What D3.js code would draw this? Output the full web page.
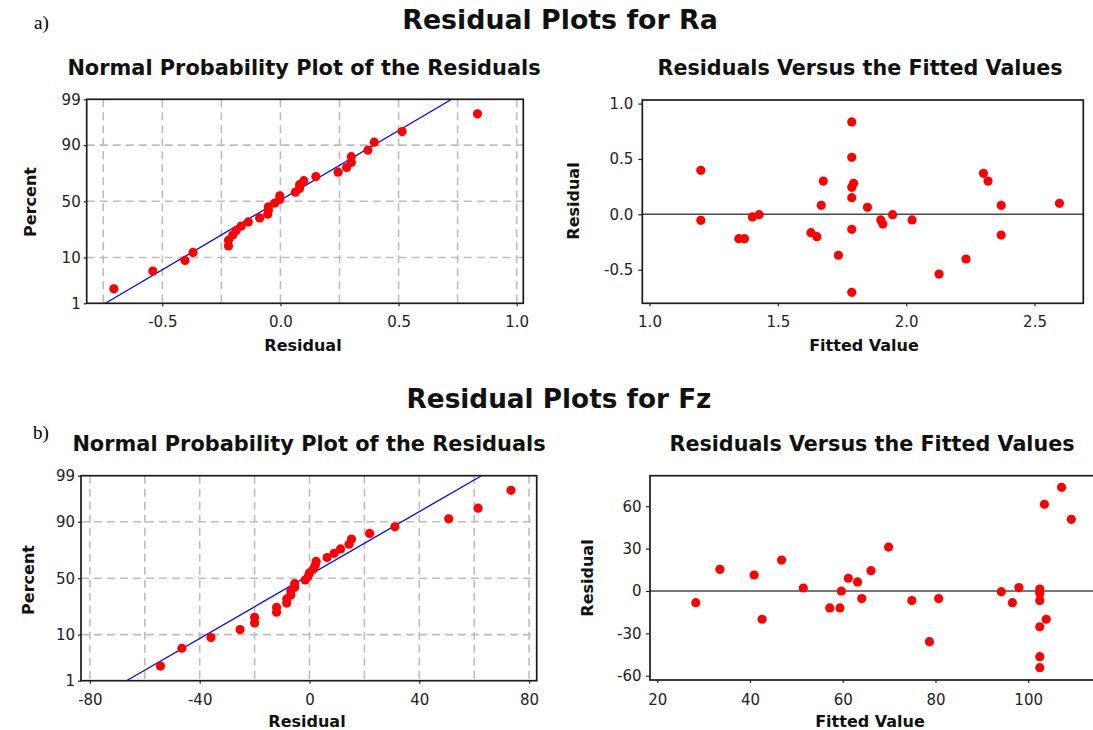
<!DOCTYPE html>
<html><head><meta charset="utf-8">
<script src="https://cdn.jsdelivr.net/npm/d3@7"></script>
<style>
html,body{margin:0;padding:0;background:#fff;}
svg{display:block;}
</style></head><body>
<svg id="chart" width="1093" height="730"></svg>
<script>
// ---------------- data ----------------
const raFitted = [1.200, 1.200, 1.348, 1.370, 1.401, 1.427, 1.629, 1.652, 1.677, 1.669,
                  1.788, 1.788, 1.795, 1.788, 1.788, 1.788, 1.788, 1.736, 1.849, 1.901,
                  1.909, 1.947, 2.023, 2.128, 2.233, 2.301, 2.319, 2.370, 2.370, 2.597];
const raResid  = [0.397, -0.054, -0.220, -0.220, -0.024, -0.003, -0.166, -0.202, 0.300, 0.081,
                  0.834, 0.515, 0.280, 0.244, 0.150, -0.136, -0.705, -0.370, 0.063, -0.051,
                  -0.088, -0.003, -0.051, -0.540, -0.404, 0.370, 0.300, 0.081, -0.187, 0.099];
const fzFitted = [28.3, 33.5, 40.9, 42.6, 46.8, 51.5, 57.2, 59.4, 59.7, 61.2,
                  63.2, 64.1, 66.1, 69.9, 74.9, 78.7, 80.7, 94.2, 96.6, 98.0,
                  102.5, 102.5, 102.5, 102.5, 103.9, 102.5, 102.5, 103.5, 107.2, 109.3];
const fzResid  = [-8.3, 15.3, 11.3, -20.0, 21.9, 2.1, -12.0, -12.0, 0.0, 9.0,
                  6.4, -5.4, 14.4, 31.1, -6.8, -35.9, -5.4, -0.5, -8.3, 2.4,
                  1.4, -1.6, -6.8, -25.3, -20.0, -46.5, -54.3, 61.4, 73.4, 50.7];
// plotting positions (percent) of the sorted residuals, n = 30
const plotPercent = [2.30, 5.59, 8.88, 12.17, 15.46, 18.75, 22.04, 25.33, 28.62, 31.91,
                     35.20, 38.49, 41.78, 45.07, 48.36, 51.64, 54.93, 58.22, 61.51, 64.80,
                     68.09, 71.38, 74.67, 77.96, 81.25, 84.54, 87.83, 91.12, 94.41, 97.70];
// fitted normal line (mean, standard deviation)
const raLineMean = -0.008, raLineSD = 0.315;
const fzLineMean = -2.0,   fzLineSD = 27.8;

const probTicks = [1, 10, 50, 90, 99];
const probGrid  = [10, 50, 90];
const raNormXTicks = [-0.5, 0.0, 0.5, 1.0];
const raNormXGrid  = [-0.75, -0.5, -0.25, 0, 0.25, 0.5, 0.75, 1.0];
const raFitXTicks  = [1.0, 1.5, 2.0, 2.5];
const raFitYTicks  = [-0.5, 0.0, 0.5, 1.0];
const fzNormXTicks = [-80, -40, 0, 40, 80];
const fzNormXGrid  = [-80, -60, -40, -20, 0, 20, 40, 60, 80];
const fzFitXTicks  = [20, 40, 60, 80, 100];
const fzFitYTicks  = [-60, -30, 0, 30, 60];

// ---------------- helpers ----------------
function qnorm(p){
  const a=[-3.969683028665376e+01,2.209460984245205e+02,-2.759285104469687e+02,1.383577518672690e+02,-3.066479806614716e+01,2.506628277459239e+00];
  const b=[-5.447609879822406e+01,1.615858368580409e+02,-1.556989798598866e+02,6.680131188771972e+01,-1.328068155288572e+01];
  const c=[-7.784894002430293e-03,-3.223964580411365e-01,-2.400758277161838e+00,-2.549732539343734e+00,4.374664141464968e+00,2.938163982698783e+00];
  const d=[7.784695709041462e-03,3.224671290700398e-01,2.445134137142996e+00,3.754408661907416e+00];
  const pl=0.02425, ph=1-pl; let q,r;
  if(p<pl){q=Math.sqrt(-2*Math.log(p));return (((((c[0]*q+c[1])*q+c[2])*q+c[3])*q+c[4])*q+c[5])/((((d[0]*q+d[1])*q+d[2])*q+d[3])*q+1);}
  if(p>ph){q=Math.sqrt(-2*Math.log(1-p));return -(((((c[0]*q+c[1])*q+c[2])*q+c[3])*q+c[4])*q+c[5])/((((d[0]*q+d[1])*q+d[2])*q+d[3])*q+1);}
  q=p-0.5;r=q*q;
  return (((((a[0]*r+a[1])*r+a[2])*r+a[3])*r+a[4])*r+a[5])*q/(((((b[0]*r+b[1])*r+b[2])*r+b[3])*r+b[4])*r+1);
}

const svg = d3.select("#chart");
const TICKFONT = "'DejaVu Sans', Verdana, sans-serif";
const GRID = "#bdbdbd", DOT = "#ff0000";

function styleAxis(g){
  g.select(".domain").remove();
  g.selectAll(".tick line").attr("stroke","#222").attr("stroke-width",1.2);
  g.selectAll(".tick text").attr("font-family",TICKFONT).attr("font-size","15px").attr("fill","#222");
}
function frame(box){
  svg.append("rect").attr("x",box.L).attr("y",box.T).attr("width",box.R-box.L).attr("height",box.B-box.T)
     .attr("fill","none").attr("stroke","#1a1a1a").attr("stroke-width",1.7);
}
function title(txt,x,y,size){
  svg.append("text").attr("x",x).attr("y",y).attr("text-anchor","middle")
     .attr("font-family",TICKFONT).attr("font-weight","bold").attr("font-size",size+"px")
     .attr("fill","#111").text(txt);
}
function vlabel(txt,x,y){
  svg.append("text").attr("transform",`translate(${x},${y}) rotate(-90)`).attr("text-anchor","middle")
     .attr("font-family",TICKFONT).attr("font-weight","bold").attr("font-size","16px").attr("fill","#111").text(txt);
}
const hy = f => (d => f(d).replace("\u2212","-"));

function normalPanel(o){
  const {L,T,R,B} = o.box;
  const x = d3.scaleLinear().domain(o.xDomain).range([L,R]);
  const y = d3.scaleLinear().domain([qnorm(0.01), qnorm(0.99)]).range([B,T]);
  const g = svg.append("g");
  g.selectAll(".vg").data(o.xGrid).join("line")
    .attr("x1",d=>x(d)).attr("x2",d=>x(d)).attr("y1",T).attr("y2",B)
    .attr("stroke",GRID).attr("stroke-width",1.6).attr("stroke-dasharray","8,5");
  g.selectAll(".hg").data(probGrid).join("line")
    .attr("x1",L).attr("x2",R).attr("y1",d=>y(qnorm(d/100))).attr("y2",d=>y(qnorm(d/100)))
    .attr("stroke",GRID).attr("stroke-width",1.6).attr("stroke-dasharray","8,5");
  const zEnds = [qnorm(0.01), qnorm(0.99)];
  g.append("path").datum(zEnds)
    .attr("d", d3.line().x(z=>x(o.mean+o.sd*z)).y(z=>y(z)))
    .attr("stroke","#0000ff").attr("stroke-width",1.3).attr("fill","none");
  const sorted = d3.sort(o.resid);
  g.selectAll("circle").data(sorted).join("circle")
    .attr("cx",d=>x(d)).attr("cy",(d,i)=>y(qnorm(plotPercent[i]/100)))
    .attr("r",4.6).attr("fill",DOT);
  frame(o.box);
  svg.append("g").attr("transform",`translate(0,${B})`)
    .call(d3.axisBottom(x).tickValues(o.xTicks).tickSize(3).tickPadding(o.xPad).tickFormat(hy(o.xFmt)))
    .call(styleAxis);
  svg.append("g").attr("transform",`translate(${L},0)`)
    .call(d3.axisLeft(y).tickValues(probTicks.map(p=>qnorm(p/100))).tickSize(3).tickPadding(o.yPad)
      .tickFormat((d,i)=>probTicks[i]))
    .call(styleAxis);
}

function fitPanel(o){
  const {L,T,R,B} = o.box;
  const x = d3.scaleLinear().domain(o.xDomain).range([L,R]);
  const y = d3.scaleLinear().domain(o.yDomain).range([B,T]);
  const g = svg.append("g");
  g.append("line").attr("x1",L).attr("x2",R).attr("y1",y(0)).attr("y2",y(0))
    .attr("stroke","#4a4a4a").attr("stroke-width",1.6);
  g.selectAll("circle").data(o.fitted).join("circle")
    .attr("cx",d=>x(d)).attr("cy",(d,i)=>y(o.resid[i]))
    .attr("r",4.6).attr("fill",DOT);
  frame(o.box);
  svg.append("g").attr("transform",`translate(0,${B})`)
    .call(d3.axisBottom(x).tickValues(o.xTicks).tickSize(3).tickPadding(o.xPad).tickFormat(hy(o.xFmt)))
    .call(styleAxis);
  svg.append("g").attr("transform",`translate(${L},0)`)
    .call(d3.axisLeft(y).tickValues(o.yTicks).tickSize(4).tickPadding(o.yPad).tickFormat(hy(o.yFmt)))
    .call(styleAxis);
}

// ---------------- panels ----------------
const f1 = d3.format(".1f"), f0 = d3.format("d");

normalPanel({box:{L:86.7,T:99.3,R:523.3,B:303.3}, xDomain:[-0.820,1.028], xGrid:raNormXGrid,
  xTicks:raNormXTicks, xFmt:f1, xPad:10, yPad:3, resid:raResid, mean:raLineMean, sd:raLineSD});
fitPanel({box:{L:642.3,T:100,R:1083.3,B:303.3}, xDomain:[0.972,2.690], yDomain:[-0.804,1.0325],
  xTicks:raFitXTicks, xFmt:f1, xPad:10, yTicks:raFitYTicks, yFmt:f1, yPad:5,
  fitted:raFitted, resid:raResid});
normalPanel({box:{L:81,T:475.7,R:536.7,B:680.7}, xDomain:[-83.24,82.77], xGrid:fzNormXGrid,
  xTicks:fzNormXTicks, xFmt:f0, xPad:10.5, yPad:3, resid:fzResid, mean:fzLineMean, sd:fzLineSD});
fitPanel({box:{L:650,T:475.7,R:1094,B:680}, xDomain:[18.43,114.2], yDomain:[-63.0,81.6],
  xTicks:fzFitXTicks, xFmt:f0, xPad:11, yTicks:fzFitYTicks, yFmt:f0, yPad:4.5,
  fitted:fzFitted, resid:fzResid});

// ---------------- texts ----------------
svg.append("text").attr("x",34).attr("y",29).attr("font-family","'Liberation Serif', 'Times New Roman', serif")
   .attr("font-size","19px").attr("fill","#000").text("a)");
svg.append("text").attr("x",33).attr("y",439).attr("font-family","'Liberation Serif', 'Times New Roman', serif")
   .attr("font-size","19px").attr("fill","#000").text("b)");

title("Residual Plots for Ra", 560, 28.5, 26.8);
title("Normal Probability Plot of the Residuals", 304, 74.5, 20.9);
title("Residuals Versus the Fitted Values", 860, 74.5, 20.7);
title("Residual Plots for Fz", 559, 408, 26.3);
title("Normal Probability Plot of the Residuals", 309, 451, 20.9);
title("Residuals Versus the Fitted Values", 872, 451, 20.7);

title("Residual", 303, 351, 16);
title("Fitted Value", 864, 351, 16);
title("Residual", 307, 727, 16);
title("Fitted Value", 870, 727, 16);
vlabel("Percent", 36, 202);
vlabel("Residual", 579, 201);
vlabel("Percent", 33.5, 580);
vlabel("Residual", 593, 578);
</script>
</body></html>
